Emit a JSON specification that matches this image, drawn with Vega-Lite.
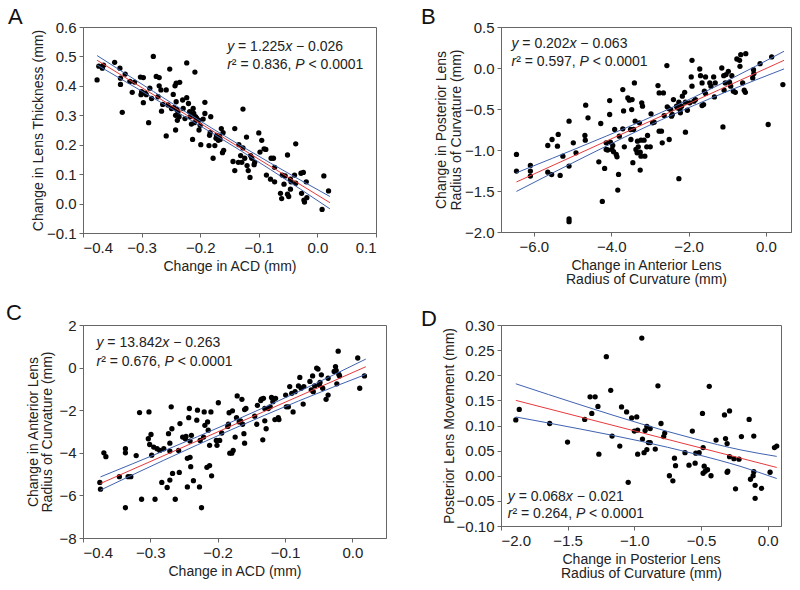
{
  "$schema": "https://vega.github.io/schema/vega-lite/v6.json",
  "autosize": {"type": "none"},
  "padding": {"left": 83, "top": 27, "right": 717, "bottom": 563},
  "background": "white",
  "columns": 2,
  "spacing": {"row": 92, "column": 115},
  "bounds": "flush",
  "config": {
    "font": "Liberation Sans",
    "view": {"stroke": "#666", "strokeWidth": 1},
    "axis": {"grid": false, "domainColor": "#666", "tickColor": "#666", "labelColor": "#222", "titleColor": "#222", "labelFontSize": 15, "titleFontSize": 14, "titleFontWeight": "normal", "tickSize": 4, "labelPadding": 3, "titleLineHeight": 14.5, "labelFont": "Liberation Sans", "titleFont": "Liberation Sans"},
    "title": {"fontSize": 22, "fontWeight": "normal", "color": "#111", "anchor": "start", "frame": "group", "baseline": "alphabetic", "font": "Liberation Sans"},
    "text": {"align": "left", "baseline": "alphabetic", "fontSize": 14, "color": "#222", "font": "Liberation Sans"}
  },
  "datasets": {
    "pa": [
      {"x":-0.376,"y":0.42},{"x":-0.373,"y":0.467},{"x":-0.367,"y":0.46},{"x":-0.365,"y":0.47},{"x":-0.346,"y":0.48},{"x":-0.337,"y":0.46},{"x":-0.336,"y":0.426},{"x":-0.336,"y":0.405},{"x":-0.333,"y":0.31},{"x":-0.328,"y":0.44},{"x":-0.32,"y":0.415},{"x":-0.316,"y":0.378},{"x":-0.312,"y":0.413},{"x":-0.302,"y":0.43},{"x":-0.297,"y":0.428},{"x":-0.3,"y":0.38},{"x":-0.301,"y":0.37},{"x":-0.297,"y":0.343},{"x":-0.294,"y":0.375},{"x":-0.292,"y":0.37},{"x":-0.288,"y":0.275},{"x":-0.286,"y":0.392},{"x":-0.283,"y":0.357},{"x":-0.28,"y":0.5},{"x":-0.275,"y":0.432},{"x":-0.27,"y":0.428},{"x":-0.27,"y":0.4},{"x":-0.272,"y":0.363},{"x":-0.267,"y":0.386},{"x":-0.266,"y":0.314},{"x":-0.264,"y":0.337},{"x":-0.258,"y":0.386},{"x":-0.258,"y":0.23},{"x":-0.255,"y":0.335},{"x":-0.252,"y":0.457},{"x":-0.249,"y":0.323},{"x":-0.246,"y":0.371},{"x":-0.245,"y":0.326},{"x":-0.243,"y":0.4},{"x":-0.241,"y":0.409},{"x":-0.242,"y":0.25},{"x":-0.241,"y":0.346},{"x":-0.242,"y":0.3},{"x":-0.239,"y":0.283},{"x":-0.238,"y":0.312},{"x":-0.235,"y":0.412},{"x":-0.23,"y":0.352},{"x":-0.229,"y":0.323},{"x":-0.226,"y":0.289},{"x":-0.223,"y":0.478},{"x":-0.223,"y":0.36},{"x":-0.22,"y":0.34},{"x":-0.218,"y":0.312},{"x":-0.217,"y":0.295},{"x":-0.215,"y":0.27},{"x":-0.213,"y":0.218},{"x":-0.212,"y":0.323},{"x":-0.211,"y":0.306},{"x":-0.209,"y":0.447},{"x":-0.208,"y":0.295},{"x":-0.202,"y":0.283},{"x":-0.2,"y":0.266},{"x":-0.202,"y":0.25},{"x":-0.199,"y":0.2},{"x":-0.195,"y":0.287},{"x":-0.192,"y":0.344},{"x":-0.192,"y":0.306},{"x":-0.184,"y":0.232},{"x":-0.185,"y":0.197},{"x":-0.182,"y":0.295},{"x":-0.183,"y":0.241},{"x":-0.178,"y":0.154},{"x":-0.175,"y":0.197},{"x":-0.173,"y":0.222},{"x":-0.172,"y":0.232},{"x":-0.169,"y":0.215},{"x":-0.167,"y":0.229},{"x":-0.164,"y":0.255},{"x":-0.162,"y":0.173},{"x":-0.161,"y":0.241},{"x":-0.16,"y":0.181},{"x":-0.141,"y":0.255},{"x":-0.144,"y":0.143},{"x":-0.141,"y":0.112},{"x":-0.135,"y":0.14},{"x":-0.134,"y":0.2},{"x":-0.131,"y":0.163},{"x":-0.129,"y":0.14},{"x":-0.127,"y":0.189},{"x":-0.127,"y":0.321},{"x":-0.124,"y":0.154},{"x":-0.121,"y":0.226},{"x":-0.12,"y":0.129},{"x":-0.118,"y":0.112},{"x":-0.115,"y":0.089},{"x":-0.114,"y":0.163},{"x":-0.112,"y":0.154},{"x":-0.108,"y":0.132},{"x":-0.107,"y":0.14},{"x":-0.1,"y":0.24},{"x":-0.098,"y":0.175},{"x":-0.095,"y":0.215},{"x":-0.091,"y":0.186},{"x":-0.088,"y":0.184},{"x":-0.087,"y":0.097},{"x":-0.08,"y":0.083},{"x":-0.079,"y":0.154},{"x":-0.075,"y":0.154},{"x":-0.073,"y":0.123},{"x":-0.073,"y":0.074},{"x":-0.063,"y":0.035},{"x":-0.061,"y":0.017},{"x":-0.06,"y":0.097},{"x":-0.057,"y":0.066},{"x":-0.055,"y":0.094},{"x":-0.051,"y":0.165},{"x":-0.051,"y":0.032},{"x":-0.049,"y":0.024},{"x":-0.046,"y":0.083},{"x":-0.046,"y":0.049},{"x":-0.045,"y":0.074},{"x":-0.039,"y":0.097},{"x":-0.037,"y":0.203},{"x":-0.037,"y":0.069},{"x":-0.028,"y":0.103},{"x":-0.027,"y":0.035},{"x":-0.024,"y":0.106},{"x":-0.023,"y":0.012},{"x":-0.022,"y":0.005},{"x":-0.019,"y":0.074},{"x":-0.018,"y":0.02},{"x":0.008,"y":-0.02},{"x":0.011,"y":0.094},{"x":0.019,"y":0.043},{"x":-0.17,"y":0.225},{"x":-0.166,"y":0.218},{"x":-0.236,"y":0.295},{"x":-0.24,"y":0.32},{"x":-0.206,"y":0.29},{"x":-0.21,"y":0.275}
    ],
    "la": [
      {"x":-0.376,"y":0.487,"s":"fit"},{"x":0.0214,"y":0.003,"s":"fit"},
      {"x":-0.376,"y":0.503,"s":"upper"},{"x":-0.28,"y":0.381,"s":"upper"},{"x":-0.18,"y":0.256,"s":"upper"},{"x":-0.08,"y":0.1375,"s":"upper"},{"x":0.0214,"y":0.024,"s":"upper"},
      {"x":-0.376,"y":0.471,"s":"lower"},{"x":-0.28,"y":0.359,"s":"lower"},{"x":-0.18,"y":0.24,"s":"lower"},{"x":-0.08,"y":0.1155,"s":"lower"},{"x":0.0214,"y":-0.018,"s":"lower"}
    ],
    "ta": [
      {"x":-0.154,"y":0.5176,"seg":"i0","t":"y"},
      {"x":-0.154,"y":0.5176,"seg":"n1","t":"= 1.225"},
      {"x":-0.154,"y":0.5176,"seg":"i2","t":"x"},
      {"x":-0.154,"y":0.5176,"seg":"n2","t":"− 0.026"},
      {"x":-0.154,"y":0.457,"seg":"i0","t":"r"},
      {"x":-0.154,"y":0.457,"seg":"m1","t":"² = 0.836,"},
      {"x":-0.154,"y":0.457,"seg":"i3","t":"P"},
      {"x":-0.154,"y":0.457,"seg":"m2","t":"< 0.0001"}
    ],
    "pb": [
      {"x":-6.45,"y":-1.054},{"x":-6.45,"y":-1.257},{"x":-6.09,"y":-1.188},{"x":-6.09,"y":-1.257},{"x":-6.09,"y":-1.318},{"x":-5.64,"y":-1.27},{"x":-5.54,"y":-1.3},{"x":-5.53,"y":-0.872},{"x":-5.64,"y":-0.945},{"x":-5.37,"y":-0.81},{"x":-5.39,"y":-0.953},{"x":-5.32,"y":-1.31},{"x":-5.25,"y":-1.075},{"x":-5.09,"y":-0.649},{"x":-5.09,"y":-1.196},{"x":-5.09,"y":-1.84},{"x":-5.09,"y":-1.874},{"x":-4.98,"y":-0.912},{"x":-4.91,"y":-1.034},{"x":-4.68,"y":-0.823},{"x":-4.67,"y":-0.88},{"x":-4.66,"y":-0.454},{"x":-4.6,"y":-0.608},{"x":-4.32,"y":-1.144},{"x":-4.27,"y":-0.677},{"x":-4.23,"y":-1.627},{"x":-4.17,"y":-1.225},{"x":-4.13,"y":-0.912},{"x":-4.13,"y":-0.994},{"x":-4.09,"y":-1.0},{"x":-4.04,"y":-0.397},{"x":-4.04,"y":-0.567},{"x":-4.02,"y":-0.904},{"x":-3.98,"y":-0.994},{"x":-3.96,"y":-0.945},{"x":-3.94,"y":-1.02},{"x":-3.91,"y":-0.75},{"x":-3.87,"y":-1.054},{"x":-3.85,"y":-1.083},{"x":-3.83,"y":-1.489},{"x":-3.81,"y":-1.298},{"x":-3.79,"y":-0.831},{"x":-3.7,"y":-0.263},{"x":-3.7,"y":-0.742},{"x":-3.68,"y":-0.523},{"x":-3.66,"y":-0.961},{"x":-3.57,"y":-0.365},{"x":-3.53,"y":-0.393},{"x":-3.5,"y":-0.75},{"x":-3.49,"y":-0.872},{"x":-3.47,"y":-0.507},{"x":-3.46,"y":-0.385},{"x":-3.44,"y":-1.155},{"x":-3.42,"y":-0.75},{"x":-3.4,"y":-0.182},{"x":-3.38,"y":-0.649},{"x":-3.36,"y":-0.994},{"x":-3.33,"y":-1.034},{"x":-3.32,"y":-0.892},{"x":-3.3,"y":-0.961},{"x":-3.27,"y":-0.669},{"x":-3.25,"y":-1.026},{"x":-3.23,"y":-1.075},{"x":-3.23,"y":-0.88},{"x":-3.21,"y":-0.425},{"x":-3.19,"y":-0.466},{"x":-3.25,"y":-1.245},{"x":-3.15,"y":-0.88},{"x":-3.13,"y":-1.075},{"x":-3.08,"y":-0.961},{"x":-3.06,"y":-0.823},{"x":-2.99,"y":-0.961},{"x":-2.97,"y":-0.559},{"x":-2.93,"y":-0.669},{"x":-2.89,"y":-0.661},{"x":-2.79,"y":-0.214},{"x":-2.76,"y":-0.304},{"x":-2.76,"y":-0.77},{"x":-2.7,"y":-0.77},{"x":-2.65,"y":-0.304},{"x":-2.68,"y":-0.912},{"x":-2.63,"y":-0.58},{"x":-2.56,"y":0.029},{"x":-2.55,"y":-0.474},{"x":-2.5,"y":-0.498},{"x":-2.5,"y":-0.872},{"x":-2.46,"y":-0.507},{"x":-2.44,"y":-0.588},{"x":-2.42,"y":-0.567},{"x":-2.39,"y":-0.385},{"x":-2.31,"y":-0.466},{"x":-2.29,"y":-0.486},{"x":-2.25,"y":-0.417},{"x":-2.25,"y":-1.35},{"x":-2.22,"y":-0.507},{"x":-2.21,"y":-0.547},{"x":-2.18,"y":-0.466},{"x":-2.16,"y":-0.344},{"x":-2.1,"y":-0.296},{"x":-2.08,"y":-0.417},{"x":-2.08,"y":-0.783},{"x":-2.03,"y":-0.515},{"x":-1.97,"y":-0.425},{"x":-1.93,"y":-0.109},{"x":-1.91,"y":0.094},{"x":-1.91,"y":-0.222},{"x":-1.86,"y":-0.405},{"x":-1.82,"y":-0.385},{"x":-1.71,"y":-0.012},{"x":-1.69,"y":-0.093},{"x":-1.65,"y":-0.182},{"x":-1.65,"y":-0.458},{"x":-1.61,"y":-0.446},{"x":-1.59,"y":-0.283},{"x":-1.56,"y":-0.312},{"x":-1.56,"y":-0.109},{"x":-1.45,"y":-0.182},{"x":-1.42,"y":-0.222},{"x":-1.35,"y":-0.109},{"x":-1.33,"y":-0.353},{"x":-1.31,"y":-0.182},{"x":-1.14,"y":0.0},{"x":-1.11,"y":-0.718},{"x":-1.09,"y":-0.093},{"x":-1.08,"y":-0.27},{"x":-1.05,"y":-0.182},{"x":-1.03,"y":-0.08},{"x":-0.97,"y":-0.04},{"x":-0.94,"y":-0.174},{"x":-0.91,"y":-0.222},{"x":-0.88,"y":-0.093},{"x":-0.84,"y":-0.283},{"x":-0.79,"y":-0.296},{"x":-0.75,"y":0.11},{"x":-0.68,"y":0.094},{"x":-0.65,"y":0.163},{"x":-0.67,"y":0.021},{"x":-0.6,"y":-0.182},{"x":-0.56,"y":-0.27},{"x":-0.53,"y":-0.296},{"x":-0.52,"y":0.175},{"x":-0.32,"y":-0.02},{"x":-0.31,"y":-0.068},{"x":-0.34,"y":-0.121},{"x":-0.15,"y":0.053},{"x":0.06,"y":-0.689},{"x":0.15,"y":0.135},{"x":0.44,"y":-0.202}
    ],
    "lb": [
      {"x":-6.45,"y":-1.39,"s":"fit"},{"x":0.47,"y":0.094,"s":"fit"},
      {"x":-6.45,"y":-1.278,"s":"upper"},{"x":-4.6,"y":-0.923,"s":"upper"},{"x":-2.7,"y":-0.541,"s":"upper"},{"x":-1.0,"y":-0.156,"s":"upper"},{"x":0.47,"y":0.204,"s":"upper"},
      {"x":-6.45,"y":-1.505,"s":"lower"},{"x":-4.6,"y":-1.063,"s":"lower"},{"x":-2.7,"y":-0.631,"s":"lower"},{"x":-1.0,"y":-0.286,"s":"lower"},{"x":0.47,"y":-0.011,"s":"lower"}
    ],
    "tb": [
      {"x":-6.58,"y":0.244,"seg":"i0","t":"y"},
      {"x":-6.58,"y":0.244,"seg":"n1","t":"= 0.202"},
      {"x":-6.58,"y":0.244,"seg":"i2","t":"x"},
      {"x":-6.58,"y":0.244,"seg":"n2","t":"− 0.063"},
      {"x":-6.58,"y":0.021,"seg":"i0","t":"r"},
      {"x":-6.58,"y":0.021,"seg":"m1","t":"² = 0.597,"},
      {"x":-6.58,"y":0.021,"seg":"i3","t":"P"},
      {"x":-6.58,"y":0.021,"seg":"m2","t":"< 0.0001"}
    ],
    "pc": [
      {"x":-0.375,"y":-5.39},{"x":-0.374,"y":-5.71},{"x":-0.369,"y":-4.0},{"x":-0.366,"y":-4.18},{"x":-0.346,"y":-5.12},{"x":-0.337,"y":-3.81},{"x":-0.337,"y":-4.0},{"x":-0.337,"y":-6.58},{"x":-0.333,"y":-5.12},{"x":-0.329,"y":-5.12},{"x":-0.321,"y":-4.13},{"x":-0.316,"y":-2.11},{"x":-0.313,"y":-6.18},{"x":-0.302,"y":-2.08},{"x":-0.303,"y":-3.34},{"x":-0.301,"y":-3.61},{"x":-0.299,"y":-3.14},{"x":-0.298,"y":-4.11},{"x":-0.295,"y":-3.73},{"x":-0.293,"y":-6.18},{"x":-0.29,"y":-3.81},{"x":-0.286,"y":-3.89},{"x":-0.28,"y":-3.81},{"x":-0.283,"y":-5.39},{"x":-0.275,"y":-5.63},{"x":-0.273,"y":-3.1},{"x":-0.271,"y":-3.55},{"x":-0.271,"y":-3.92},{"x":-0.271,"y":-5.28},{"x":-0.269,"y":-1.84},{"x":-0.268,"y":-2.87},{"x":-0.267,"y":-4.97},{"x":-0.263,"y":-6.18},{"x":-0.258,"y":-3.89},{"x":-0.257,"y":-4.92},{"x":-0.256,"y":-2.63},{"x":-0.252,"y":-3.26},{"x":-0.248,"y":-3.34},{"x":-0.247,"y":-3.23},{"x":-0.245,"y":-4.26},{"x":-0.245,"y":-5.6},{"x":-0.243,"y":-2.35},{"x":-0.242,"y":-1.92},{"x":-0.241,"y":-3.45},{"x":-0.241,"y":-4.21},{"x":-0.24,"y":-4.65},{"x":-0.239,"y":-3.18},{"x":-0.236,"y":-5.31},{"x":-0.231,"y":-2.47},{"x":-0.23,"y":-2.0},{"x":-0.227,"y":-5.6},{"x":-0.226,"y":-3.42},{"x":-0.224,"y":-6.58},{"x":-0.221,"y":-3.26},{"x":-0.22,"y":-2.08},{"x":-0.219,"y":-2.71},{"x":-0.216,"y":-4.68},{"x":-0.215,"y":-2.55},{"x":-0.214,"y":-2.94},{"x":-0.212,"y":-4.6},{"x":-0.212,"y":-3.65},{"x":-0.21,"y":-2.08},{"x":-0.209,"y":-5.08},{"x":-0.202,"y":-3.42},{"x":-0.201,"y":-3.65},{"x":-0.199,"y":-1.65},{"x":-0.197,"y":-3.42},{"x":-0.194,"y":-3.07},{"x":-0.185,"y":-2.76},{"x":-0.184,"y":-2.66},{"x":-0.183,"y":-2.12},{"x":-0.182,"y":-4.02},{"x":-0.179,"y":-4.02},{"x":-0.178,"y":-2.03},{"x":-0.177,"y":-3.89},{"x":-0.174,"y":-3.26},{"x":-0.172,"y":-2.35},{"x":-0.171,"y":-1.33},{"x":-0.168,"y":-2.55},{"x":-0.166,"y":-2.5},{"x":-0.164,"y":-1.49},{"x":-0.163,"y":-2.66},{"x":-0.161,"y":-3.1},{"x":-0.16,"y":-3.55},{"x":-0.16,"y":-1.97},{"x":-0.158,"y":-1.92},{"x":-0.145,"y":-2.28},{"x":-0.142,"y":-2.66},{"x":-0.141,"y":-1.77},{"x":-0.136,"y":-1.55},{"x":-0.135,"y":-1.48},{"x":-0.133,"y":-3.39},{"x":-0.132,"y":-1.44},{"x":-0.13,"y":-1.92},{"x":-0.13,"y":-2.5},{"x":-0.128,"y":-2.87},{"x":-0.125,"y":-1.92},{"x":-0.122,"y":-1.84},{"x":-0.12,"y":-1.4},{"x":-0.118,"y":-1.6},{"x":-0.115,"y":-2.44},{"x":-0.114,"y":-1.44},{"x":-0.11,"y":-2.35},{"x":-0.109,"y":-2.44},{"x":-0.099,"y":-1.29},{"x":-0.098,"y":-1.84},{"x":-0.095,"y":-1.84},{"x":-0.093,"y":-0.89},{"x":-0.09,"y":-1.21},{"x":-0.088,"y":-2.08},{"x":-0.085,"y":-1.13},{"x":-0.08,"y":-0.86},{"x":-0.078,"y":-0.46},{"x":-0.076,"y":-0.97},{"x":-0.073,"y":-1.71},{"x":-0.072,"y":-0.89},{"x":-0.063,"y":-0.65},{"x":-0.061,"y":-1.05},{"x":-0.059,"y":-0.39},{"x":-0.058,"y":-1.13},{"x":-0.056,"y":-0.86},{"x":-0.053,"y":-0.02},{"x":-0.051,"y":-0.07},{"x":-0.049,"y":-0.81},{"x":-0.048,"y":-0.7},{"x":-0.046,"y":-0.34},{"x":-0.044,"y":-0.97},{"x":-0.039,"y":-1.49},{"x":-0.036,"y":-0.5},{"x":-0.036,"y":-1.29},{"x":-0.027,"y":-0.18},{"x":-0.025,"y":0.05},{"x":-0.024,"y":-0.13},{"x":-0.023,"y":-0.76},{"x":-0.021,"y":0.77},{"x":-0.02,"y":-0.32},{"x":-0.019,"y":-0.39},{"x":0.008,"y":0.45},{"x":0.011,"y":-0.97},{"x":0.018,"y":-0.39}
    ],
    "lc": [
      {"x":-0.374,"y":-5.44,"s":"fit"},{"x":0.02,"y":0.04,"s":"fit"},
      {"x":-0.374,"y":-5.13,"s":"upper"},{"x":-0.28,"y":-3.91,"s":"upper"},{"x":-0.18,"y":-2.56,"s":"upper"},{"x":-0.08,"y":-1.13,"s":"upper"},{"x":0.02,"y":0.4,"s":"upper"},
      {"x":-0.374,"y":-5.75,"s":"lower"},{"x":-0.28,"y":-4.35,"s":"lower"},{"x":-0.18,"y":-2.92,"s":"lower"},{"x":-0.08,"y":-1.57,"s":"lower"},{"x":0.02,"y":-0.32,"s":"lower"}
    ],
    "tc": [
      {"x":-0.38,"y":0.973,"seg":"i0","t":"y"},
      {"x":-0.38,"y":0.973,"seg":"n1","t":"= 13.842"},
      {"x":-0.38,"y":0.973,"seg":"i2w","t":"x"},
      {"x":-0.38,"y":0.973,"seg":"n2w","t":"− 0.263"},
      {"x":-0.38,"y":0.088,"seg":"i0","t":"r"},
      {"x":-0.38,"y":0.088,"seg":"m1","t":"² = 0.676,"},
      {"x":-0.38,"y":0.088,"seg":"i3","t":"P"},
      {"x":-0.38,"y":0.088,"seg":"m2","t":"< 0.0001"}
    ],
    "pd": [
      {"x":-1.889,"y":0.111},{"x":-1.863,"y":0.132},{"x":-1.635,"y":0.104},{"x":-1.501,"y":0.067},{"x":-1.372,"y":0.112},{"x":-1.332,"y":0.157},{"x":-1.294,"y":0.157},{"x":-1.319,"y":0.124},{"x":-1.273,"y":0.138},{"x":-1.266,"y":0.043},{"x":-1.21,"y":0.237},{"x":-1.177,"y":0.17},{"x":-1.167,"y":0.079},{"x":-1.109,"y":0.059},{"x":-1.096,"y":0.137},{"x":-1.058,"y":0.127},{"x":-1.046,"y":-0.013},{"x":-1.02,"y":0.115},{"x":-1.0,"y":0.089},{"x":-0.982,"y":0.117},{"x":-0.975,"y":0.043},{"x":-0.975,"y":0.091},{"x":-0.944,"y":0.274},{"x":-0.939,"y":0.073},{"x":-0.927,"y":0.046},{"x":-0.919,"y":0.09},{"x":-0.906,"y":0.098},{"x":-0.906,"y":0.052},{"x":-0.894,"y":0.066},{"x":-0.881,"y":0.066},{"x":-0.881,"y":0.094},{"x":-0.843,"y":0.053},{"x":-0.823,"y":0.179},{"x":-0.8,"y":0.104},{"x":-0.78,"y":0.078},{"x":-0.772,"y":0.085},{"x":-0.737,"y":0.0},{"x":-0.711,"y":-0.01},{"x":-0.699,"y":0.035},{"x":-0.691,"y":0.02},{"x":-0.62,"y":0.046},{"x":-0.59,"y":0.021},{"x":-0.565,"y":0.089},{"x":-0.544,"y":0.025},{"x":-0.539,"y":0.045},{"x":-0.514,"y":0.046},{"x":-0.489,"y":0.124},{"x":-0.484,"y":0.056},{"x":-0.484,"y":0.005},{"x":-0.476,"y":0.019},{"x":-0.468,"y":0.009},{"x":-0.451,"y":0.012},{"x":-0.438,"y":0.178},{"x":-0.425,"y":0.0},{"x":-0.387,"y":0.071},{"x":-0.324,"y":0.121},{"x":-0.316,"y":0.074},{"x":-0.304,"y":0.064},{"x":-0.304,"y":0.007},{"x":-0.299,"y":0.009},{"x":-0.286,"y":0.129},{"x":-0.286,"y":0.038},{"x":-0.253,"y":0.034},{"x":-0.241,"y":-0.026},{"x":-0.215,"y":0.033},{"x":-0.197,"y":0.078},{"x":-0.139,"y":0.112},{"x":-0.129,"y":-0.007},{"x":-0.109,"y":0.0},{"x":-0.104,"y":0.079},{"x":-0.104,"y":0.008},{"x":-0.094,"y":-0.019},{"x":-0.094,"y":-0.045},{"x":-0.046,"y":-0.025},{"x":0.018,"y":0.007},{"x":0.051,"y":0.056},{"x":0.068,"y":0.059}
    ],
    "ld": [
      {"x":-1.889,"y":0.15,"s":"fit"},{"x":0.068,"y":0.0165,"s":"fit"},
      {"x":-1.889,"y":0.183,"s":"upper"},{"x":-1.4,"y":0.1407,"s":"upper"},{"x":-0.95,"y":0.1034,"s":"upper"},{"x":-0.55,"y":0.0737,"s":"upper"},{"x":-0.2,"y":0.0513,"s":"upper"},{"x":0.068,"y":0.0385,"s":"upper"},
      {"x":-1.889,"y":0.117,"s":"lower"},{"x":-1.4,"y":0.0927,"s":"lower"},{"x":-0.95,"y":0.0686,"s":"lower"},{"x":-0.55,"y":0.0437,"s":"lower"},{"x":-0.2,"y":0.0183,"s":"lower"},{"x":0.068,"y":-0.0055,"s":"lower"}
    ],
    "td": [
      {"x":-1.949,"y":-0.0493,"seg":"i0","t":"y"},
      {"x":-1.949,"y":-0.0493,"seg":"n1","t":"= 0.068"},
      {"x":-1.949,"y":-0.0493,"seg":"i2","t":"x"},
      {"x":-1.949,"y":-0.0493,"seg":"n2","t":"− 0.021"},
      {"x":-1.949,"y":-0.0842,"seg":"i0","t":"r"},
      {"x":-1.949,"y":-0.0842,"seg":"m1","t":"² = 0.264,"},
      {"x":-1.949,"y":-0.0842,"seg":"i3","t":"P"},
      {"x":-1.949,"y":-0.0842,"seg":"m2","t":"< 0.0001"}
    ]
  },
  "concat": [
    {
      "width": 293, "height": 206,
      "title": {"text": "A", "dx": -75, "offset": -9},
      "encoding": {
        "x": {"field": "x", "type": "quantitative", "scale": {"domain": [-0.4, 0.1], "nice": false, "zero": false}, "axis": {"values": [-0.4,-0.3,-0.2,-0.1,0,0.1], "labelExpr": "replace(format(datum.value, '.1f'), '-', '−')", "title": "Change in ACD (mm)"}},
        "y": {"field": "y", "type": "quantitative", "scale": {"domain": [-0.1, 0.6], "nice": false, "zero": false}, "axis": {"values": [-0.1,0,0.1,0.2,0.3,0.4,0.5,0.6], "labelExpr": "replace(format(datum.value, '.1f'), '-', '−')", "title": "Change in Lens Thickness (mm)", "titlePadding": 1}}
      },
      "layer": [
        {"data": {"name": "pa"}, "mark": {"type": "circle", "size": 28, "color": "black", "opacity": 1}},
        {"data": {"name": "la"}, "mark": {"type": "line", "strokeWidth": 1, "interpolate": "monotone"}, "encoding": {"color": {"field": "s", "type": "nominal", "scale": {"domain": ["fit","upper","lower"], "range": ["#e8393c","#3f62b0","#3f62b0"]}, "legend": null}}},
        {"data": {"name": "ta"}, "transform": [{"filter": "datum.seg == 'i0'"}], "mark": {"type": "text", "fontStyle": "italic"}, "encoding": {"text": {"field": "t"}}},
        {"data": {"name": "ta"}, "transform": [{"filter": "datum.seg == 'n1'"}], "mark": {"type": "text", "dx": 10.9}, "encoding": {"text": {"field": "t"}}},
        {"data": {"name": "ta"}, "transform": [{"filter": "datum.seg == 'i2'"}], "mark": {"type": "text", "fontStyle": "italic", "dx": 58}, "encoding": {"text": {"field": "t"}}},
        {"data": {"name": "ta"}, "transform": [{"filter": "datum.seg == 'n2'"}], "mark": {"type": "text", "dx": 68.9}, "encoding": {"text": {"field": "t"}}},
        {"data": {"name": "ta"}, "transform": [{"filter": "datum.seg == 'm1'"}], "mark": {"type": "text", "dx": 4.7}, "encoding": {"text": {"field": "t"}}},
        {"data": {"name": "ta"}, "transform": [{"filter": "datum.seg == 'i3'"}], "mark": {"type": "text", "fontStyle": "italic", "dx": 68.1}, "encoding": {"text": {"field": "t"}}},
        {"data": {"name": "ta"}, "transform": [{"filter": "datum.seg == 'm2'"}], "mark": {"type": "text", "dx": 81.3}, "encoding": {"text": {"field": "t"}}}
      ]
    },
    {
      "width": 290, "height": 205,
      "title": {"text": "B", "dx": -80, "offset": -9},
      "encoding": {
        "x": {"field": "x", "type": "quantitative", "scale": {"domain": [-6.85, 0.65], "nice": false, "zero": false}, "axis": {"values": [-6,-4,-2,0], "labelExpr": "replace(format(datum.value, '.1f'), '-', '−')", "title": ["Change in Anterior Lens", "Radius of Curvature (mm)"]}},
        "y": {"field": "y", "type": "quantitative", "scale": {"domain": [-2, 0.5], "nice": false, "zero": false}, "axis": {"values": [-2,-1.5,-1,-0.5,0,0.5], "labelExpr": "replace(format(datum.value, '.1f'), '-', '−')", "title": ["Change in Posterior Lens", "Radius of Curvature (mm)"], "titlePadding": 1}}
      },
      "layer": [
        {"data": {"name": "pb"}, "mark": {"type": "circle", "size": 28, "color": "black", "opacity": 1}},
        {"data": {"name": "lb"}, "mark": {"type": "line", "strokeWidth": 1, "interpolate": "monotone"}, "encoding": {"color": {"field": "s", "type": "nominal", "scale": {"domain": ["fit","upper","lower"], "range": ["#e8393c","#3f62b0","#3f62b0"]}, "legend": null}}},
        {"data": {"name": "tb"}, "transform": [{"filter": "datum.seg == 'i0'"}], "mark": {"type": "text", "fontStyle": "italic"}, "encoding": {"text": {"field": "t"}}},
        {"data": {"name": "tb"}, "transform": [{"filter": "datum.seg == 'n1'"}], "mark": {"type": "text", "dx": 10.9}, "encoding": {"text": {"field": "t"}}},
        {"data": {"name": "tb"}, "transform": [{"filter": "datum.seg == 'i2'"}], "mark": {"type": "text", "fontStyle": "italic", "dx": 58}, "encoding": {"text": {"field": "t"}}},
        {"data": {"name": "tb"}, "transform": [{"filter": "datum.seg == 'n2'"}], "mark": {"type": "text", "dx": 68.9}, "encoding": {"text": {"field": "t"}}},
        {"data": {"name": "tb"}, "transform": [{"filter": "datum.seg == 'm1'"}], "mark": {"type": "text", "dx": 4.7}, "encoding": {"text": {"field": "t"}}},
        {"data": {"name": "tb"}, "transform": [{"filter": "datum.seg == 'i3'"}], "mark": {"type": "text", "fontStyle": "italic", "dx": 68.1}, "encoding": {"text": {"field": "t"}}},
        {"data": {"name": "tb"}, "transform": [{"filter": "datum.seg == 'm2'"}], "mark": {"type": "text", "dx": 81.3}, "encoding": {"text": {"field": "t"}}}
      ]
    },
    {
      "width": 303, "height": 213,
      "title": {"text": "C", "dx": -77, "offset": -7},
      "encoding": {
        "x": {"field": "x", "type": "quantitative", "scale": {"domain": [-0.4, 0.05], "nice": false, "zero": false}, "axis": {"values": [-0.4,-0.3,-0.2,-0.1,0], "labelExpr": "replace(format(datum.value, '.1f'), '-', '−')", "title": "Change in ACD (mm)"}},
        "y": {"field": "y", "type": "quantitative", "scale": {"domain": [-8, 2], "nice": false, "zero": false}, "axis": {"values": [-8,-6,-4,-2,0,2], "labelExpr": "replace(format(datum.value, 'd'), '-', '−')", "title": ["Change in Anterior Lens", "Radius of Curvature (mm)"], "titlePadding": 4}}
      },
      "layer": [
        {"data": {"name": "pc"}, "mark": {"type": "circle", "size": 28, "color": "black", "opacity": 1}},
        {"data": {"name": "lc"}, "mark": {"type": "line", "strokeWidth": 1, "interpolate": "monotone"}, "encoding": {"color": {"field": "s", "type": "nominal", "scale": {"domain": ["fit","upper","lower"], "range": ["#e8393c","#3f62b0","#3f62b0"]}, "legend": null}}},
        {"data": {"name": "tc"}, "transform": [{"filter": "datum.seg == 'i0'"}], "mark": {"type": "text", "fontStyle": "italic"}, "encoding": {"text": {"field": "t"}}},
        {"data": {"name": "tc"}, "transform": [{"filter": "datum.seg == 'n1'"}], "mark": {"type": "text", "dx": 10.9}, "encoding": {"text": {"field": "t"}}},
        {"data": {"name": "tc"}, "transform": [{"filter": "datum.seg == 'i2w'"}], "mark": {"type": "text", "fontStyle": "italic", "dx": 65.8}, "encoding": {"text": {"field": "t"}}},
        {"data": {"name": "tc"}, "transform": [{"filter": "datum.seg == 'n2w'"}], "mark": {"type": "text", "dx": 76.7}, "encoding": {"text": {"field": "t"}}},
        {"data": {"name": "tc"}, "transform": [{"filter": "datum.seg == 'm1'"}], "mark": {"type": "text", "dx": 4.7}, "encoding": {"text": {"field": "t"}}},
        {"data": {"name": "tc"}, "transform": [{"filter": "datum.seg == 'i3'"}], "mark": {"type": "text", "fontStyle": "italic", "dx": 68.1}, "encoding": {"text": {"field": "t"}}},
        {"data": {"name": "tc"}, "transform": [{"filter": "datum.seg == 'm2'"}], "mark": {"type": "text", "dx": 81.3}, "encoding": {"text": {"field": "t"}}}
      ]
    },
    {
      "width": 280, "height": 201,
      "title": {"text": "D", "dx": -80, "offset": -13},
      "encoding": {
        "x": {"field": "x", "type": "quantitative", "scale": {"domain": [-2, 0.1], "nice": false, "zero": false}, "axis": {"values": [-2,-1.5,-1,-0.5,0], "labelExpr": "replace(format(datum.value, '.1f'), '-', '−')", "title": ["Change in Posterior Lens", "Radius of Curvature (mm)"]}},
        "y": {"field": "y", "type": "quantitative", "scale": {"domain": [-0.1, 0.3], "nice": false, "zero": false}, "axis": {"values": [-0.1,-0.05,0,0.05,0.1,0.15,0.2,0.25,0.3], "labelExpr": "replace(format(datum.value, '.2f'), '-', '−')", "title": "Posterior Lens Movement (mm)", "titlePadding": 0}}
      },
      "layer": [
        {"data": {"name": "pd"}, "mark": {"type": "circle", "size": 28, "color": "black", "opacity": 1}},
        {"data": {"name": "ld"}, "mark": {"type": "line", "strokeWidth": 1, "interpolate": "monotone"}, "encoding": {"color": {"field": "s", "type": "nominal", "scale": {"domain": ["fit","upper","lower"], "range": ["#e8393c","#3f62b0","#3f62b0"]}, "legend": null}}},
        {"data": {"name": "td"}, "transform": [{"filter": "datum.seg == 'i0'"}], "mark": {"type": "text", "fontStyle": "italic"}, "encoding": {"text": {"field": "t"}}},
        {"data": {"name": "td"}, "transform": [{"filter": "datum.seg == 'n1'"}], "mark": {"type": "text", "dx": 10.9}, "encoding": {"text": {"field": "t"}}},
        {"data": {"name": "td"}, "transform": [{"filter": "datum.seg == 'i2'"}], "mark": {"type": "text", "fontStyle": "italic", "dx": 58}, "encoding": {"text": {"field": "t"}}},
        {"data": {"name": "td"}, "transform": [{"filter": "datum.seg == 'n2'"}], "mark": {"type": "text", "dx": 68.9}, "encoding": {"text": {"field": "t"}}},
        {"data": {"name": "td"}, "transform": [{"filter": "datum.seg == 'm1'"}], "mark": {"type": "text", "dx": 4.7}, "encoding": {"text": {"field": "t"}}},
        {"data": {"name": "td"}, "transform": [{"filter": "datum.seg == 'i3'"}], "mark": {"type": "text", "fontStyle": "italic", "dx": 68.1}, "encoding": {"text": {"field": "t"}}},
        {"data": {"name": "td"}, "transform": [{"filter": "datum.seg == 'm2'"}], "mark": {"type": "text", "dx": 81.3}, "encoding": {"text": {"field": "t"}}}
      ]
    }
  ]
}
